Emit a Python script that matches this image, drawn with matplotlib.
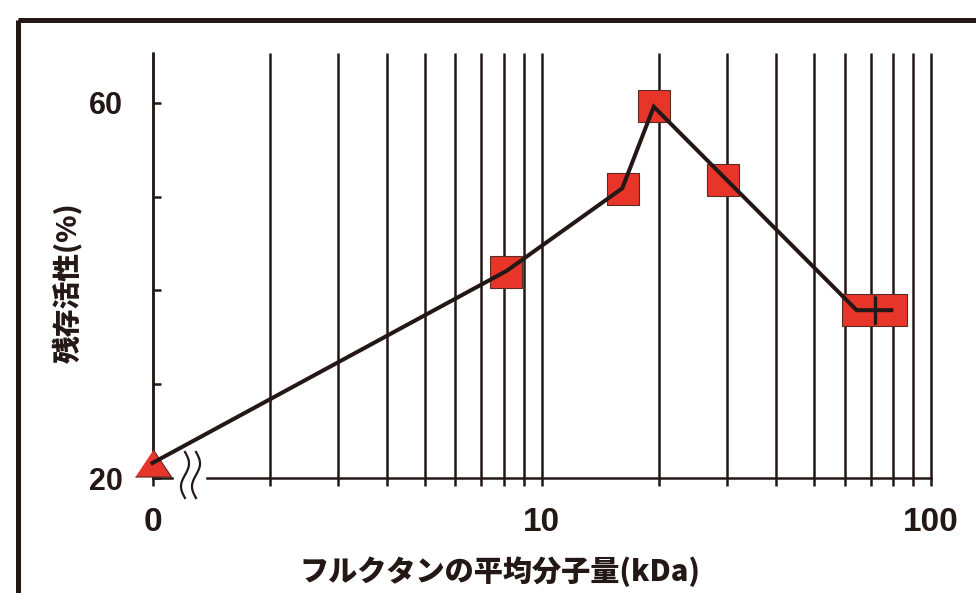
import numpy as np
import matplotlib
matplotlib.use("Agg")
import matplotlib.pyplot as plt
from matplotlib.patches import Rectangle
from matplotlib.transforms import Affine2D

# measured points (log x, the "0" sample sits at x=1)
tri_x = [1]
tri_y = [21.55]
sq_x = [8.08, 16.2, 19.4, 29.2, 64.8, 79.1]
sq_y = [42.0, 50.8, 59.7, 51.8, 37.9, 37.9]
line_x = [1, 8.13, 16.1, 19.4, 64.4, 79.1]
line_y = [21.6, 42.1, 50.9, 59.6, 37.9, 37.9]
err_x = [71.6]
err_y = [37.9]
err_v = [1.5]

grid_x = [1, 2, 3, 4, 5, 6, 7, 8, 9, 10, 20, 30, 40, 50, 60, 70, 80, 90, 100]
xmajor = [1, 10, 100]
xmajor_labels = ["0", "10", "100"]
yticks = [20, 30, 40, 50, 60]
ytick_labels = ["20", "", "", "", "60"]

xlabel = "フルクタンの平均分子量(kDa)"
ylabel = "残存活性(%)"

INK = "#231815"
RED = "#e8352a"
W, H = 976, 593


def main():
    plt.rcParams["font.family"] = ["Liberation Sans", "DejaVu Sans"]
    fig = plt.figure(figsize=(W / 100, H / 100), dpi=100)
    ax = fig.add_axes([152.5 / W, 1 - 478 / H, 778.5 / W, 425 / H])
    ax.set_xscale("log")
    ax.set_xlim(1, 100)
    ax.set_ylim(20, 65.33)

    # vertical grid
    ax.vlines(grid_x, 20, 65.33, colors=INK, lw=1.8, zorder=1, clip_on=False)

    # spines
    for s in ["top", "right"]:
        ax.spines[s].set_visible(False)
    ax.spines["left"].set_color(INK)
    ax.spines["left"].set_linewidth(1.8)
    ax.spines["bottom"].set_color(INK)
    ax.spines["bottom"].set_linewidth(1.8)
    ax.spines["bottom"].set_bounds(1.38, 100)
    ax.plot([1, 1.12], [20, 20], color=INK, lw=1.8, clip_on=False, zorder=1)

    ax.set_xticks(xmajor)
    ax.set_xticklabels(xmajor_labels)
    ax.set_xticks([g for g in grid_x if g not in xmajor], minor=True)
    ax.xaxis.set_minor_formatter(plt.NullFormatter())
    ax.tick_params(axis="x", which="both", direction="out", length=6,
                   width=1.8, color=INK)
    ax.tick_params(axis="x", which="major", pad=15, labelsize=24,
                   labelcolor=INK)
    for t in ax.get_xticklabels():
        t.set_fontweight("bold")

    ax.set_yticks(yticks)
    ax.set_yticklabels(ytick_labels)
    ax.yaxis.set_minor_locator(plt.NullLocator())
    ax.tick_params(axis="y", direction="in", length=6, width=1.8, color=INK,
                   pad=21, labelsize=22, labelcolor=INK)
    for t in ax.get_yticklabels():
        t.set_fontweight("bold")

    # data
    ax.plot(sq_x, sq_y, "s", ms=23.5, mfc=RED, mec="#5a2a25", mew=0.8,
            clip_on=False, zorder=3)
    tri = [(-1, -0.75), (1, -0.75), (0, 0.75)]
    ax.plot(tri_x, tri_y, marker=tri, ls="none", ms=26, mfc=RED,
            mec="#5a2a25", mew=0.8, clip_on=False, zorder=3)
    ax.plot(line_x, line_y, color=INK, lw=2.9, solid_joinstyle="miter",
            clip_on=False, zorder=4)
    ax.errorbar(err_x, err_y, yerr=err_v, fmt="none", ecolor=INK,
                elinewidth=2.4, capsize=0, zorder=4)

    jp = ["Noto Sans CJK JP", "DejaVu Sans"]
    ax.set_xlabel(xlabel, family=jp, fontsize=21, fontweight="heavy",
                  color=INK, va="center")
    ax.xaxis.set_label_coords(0.4457, -0.221)
    ax.set_ylabel(ylabel, family=jp, fontsize=20, fontweight="heavy",
                  color=INK, va="center")
    ax.yaxis.set_label_coords(-0.1085, 0.459)

    # pixel transform, origin top-left
    px = Affine2D().scale(1 / W, -1 / H).translate(0, 1) + fig.transFigure

    # axis break squiggles
    t = np.linspace(0, 1, 60)
    for xc in [185, 196]:
        fig.add_artist(plt.Line2D(xc + 4 * np.sin(2 * np.pi * t),
                                  452 + 46 * t, transform=px, color=INK,
                                  lw=1.6))

    # outer frame (runs off the right and bottom edges)
    fig.add_artist(Rectangle((17.5, 19.5), 1200, 800, transform=px,
                             fill=False, ec=INK, lw=3.6, clip_on=False))

    fig.savefig("out.png", dpi=100)


if __name__ == "__main__":
    main()
